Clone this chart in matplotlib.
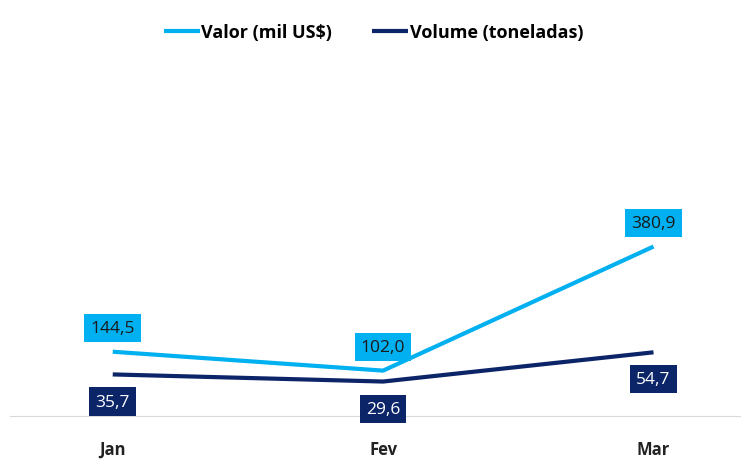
import matplotlib
matplotlib.use("Agg")
import matplotlib.pyplot as plt

plt.rcParams['font.family'] = ['Open Sans', 'DejaVu Sans']

months = ['Jan', 'Fev', 'Mar']
valor = [144.5, 102.0, 380.9]
volume = [35.7, 29.6, 54.7]

c_valor = '#00B0F0'
c_volume = '#0C2468'

fig = plt.figure(figsize=(7.47, 4.60), dpi=100)
ax = fig.add_axes([10/747, 43/460, 730/747, 347/460])
ax2 = ax.twinx()

x = range(len(months))
l1, = ax.plot(x, valor, color=c_valor, lw=3, solid_capstyle='butt', label='Valor (mil US$)')
l2, = ax2.plot(x, volume, color=c_volume, lw=3, solid_capstyle='butt', label='Volume (toneladas)')

ax.set_ylim(0, 780)
ax2.set_ylim(0, 298)
ax.set_xlim(-0.38, 2.32)

def fmt(v):
    return f'{v:.1f}'.replace('.', ',')

for i, v in enumerate(valor):
    ax.annotate(fmt(v), (i, v), xytext=(0, 17), textcoords='offset points',
                ha='center', va='center', fontsize=12.5, color='#1a1a1a',
                bbox=dict(boxstyle='square,pad=0.35', fc=c_valor, ec='none'))
for i, v in enumerate(volume):
    ax2.annotate(fmt(v), (i, v), xytext=(0, -19.5), textcoords='offset points',
                 ha='center', va='center', fontsize=12.5, color='white',
                 bbox=dict(boxstyle='square,pad=0.35', fc=c_volume, ec='none'))

for a in (ax, ax2):
    for s in ('top', 'left', 'right'):
        a.spines[s].set_visible(False)
    a.set_yticks([])
ax2.spines['bottom'].set_visible(False)
ax.spines['bottom'].set_color('#d9d9d9')
ax.set_xticks(list(x))
ax.set_xticklabels(months, fontsize=12, fontweight='bold', color='#222222')
ax.tick_params(axis='x', length=0, pad=17)

fig.legend(handles=[l1, l2], loc='center', bbox_to_anchor=(0.5, 1 - 33/460), ncol=2,
           frameon=False, prop={'weight': 'bold', 'size': 13}, handlelength=2.0,
           handletextpad=0.1, columnspacing=2.2)

fig.savefig('out.png', dpi=100)
